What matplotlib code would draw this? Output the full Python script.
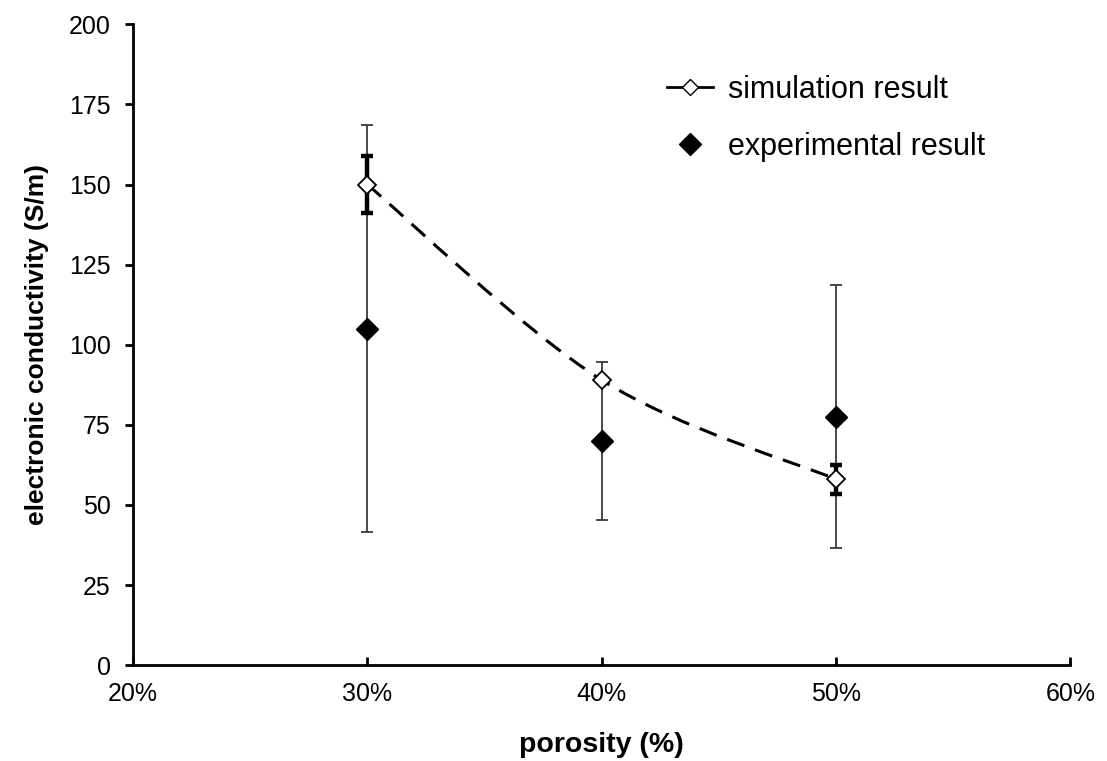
import matplotlib
matplotlib.use("Agg")
import matplotlib.pyplot as plt
from matplotlib.path import Path
from matplotlib.patches import PathPatch
from matplotlib.lines import Line2D
from matplotlib.ticker import FuncFormatter

plt.rcParams['font.family'] = ['Liberation Sans', 'DejaVu Sans']

# data
porosity = [30, 40, 50]
sim_vals = [150, 89, 58]
sim_err = [9, 0, 4.5]
exp_vals = [105, 70, 77.5]
exp_err = [63.5, 24.7, 41]


def smooth_path(xs, ys):
    # Excel-style smoothed line: cubic bezier with Catmull-Rom control points
    pts = list(zip(xs, ys))
    ext = [pts[0]] + pts + [pts[-1]]
    verts = [pts[0]]
    codes = [Path.MOVETO]
    for i in range(1, len(ext) - 2):
        p0, p1, p2, p3 = ext[i - 1], ext[i], ext[i + 1], ext[i + 2]
        c1 = (p1[0] + (p2[0] - p0[0]) / 6, p1[1] + (p2[1] - p0[1]) / 6)
        c2 = (p2[0] - (p3[0] - p1[0]) / 6, p2[1] - (p3[1] - p1[1]) / 6)
        verts += [c1, c2, p2]
        codes += [Path.CURVE4] * 3
    return Path(verts, codes)


fig = plt.figure(figsize=(11.07, 7.61), dpi=100)
ax = fig.add_axes([0.120, 0.126, 0.847, 0.842])

# experimental error bars (thin)
ax.errorbar(porosity, exp_vals, yerr=exp_err, fmt='none', ecolor='#3a3a3a',
            elinewidth=1.3, capsize=4.5, capthick=1.3, zorder=2)
# simulation error bars (thick)
ax.errorbar(porosity, sim_vals, yerr=sim_err, fmt='none', ecolor='black',
            elinewidth=3.2, capsize=4.5, capthick=3.2, zorder=3)

# smoothed dashed simulation curve
ax.add_patch(PathPatch(smooth_path(porosity, sim_vals), fill=False,
                       edgecolor='black', lw=2.2, linestyle=(0, (6, 3.7)), zorder=4))

ax.plot(porosity, exp_vals, linestyle='none', marker='D', ms=11,
        mfc='black', mec='black', zorder=5)
ax.plot(porosity, sim_vals, linestyle='none', marker='D', ms=9.5,
        mfc='white', mec='black', mew=1.3, zorder=6)

ax.set_xlim(20, 60)
ax.set_ylim(0, 200)
ax.set_xticks([20, 30, 40, 50, 60])
ax.set_yticks(range(0, 201, 25))
ax.xaxis.set_major_formatter(FuncFormatter(lambda v, p: f"{int(v)}%"))

for s in ['top', 'right']:
    ax.spines[s].set_visible(False)
for s in ['left', 'bottom']:
    ax.spines[s].set_linewidth(2)

ax.tick_params(axis='x', direction='in', length=6, width=2, labelsize=18, pad=12)
ax.tick_params(axis='y', direction='out', length=6, width=2, labelsize=18, pad=10)

ax.set_xlabel("porosity (%)", fontsize=20.5, fontweight='bold', labelpad=19)
ax.set_ylabel("electronic conductivity (S/m)", fontsize=19, fontweight='bold', labelpad=14)

handles = [
    Line2D([], [], color='black', lw=2, marker='D', ms=8, mfc='white', mec='black'),
    Line2D([], [], color='none', marker='D', ms=11, mfc='black', mec='black'),
]
ax.legend(handles, ["simulation result", "experimental result"], loc='upper left',
          bbox_to_anchor=(0.578, 0.938), bbox_transform=fig.transFigure,
          frameon=False, fontsize=22, handlelength=1.5, labelspacing=0.9,
          handletextpad=0.5)

fig.savefig("out.png", dpi=100)
